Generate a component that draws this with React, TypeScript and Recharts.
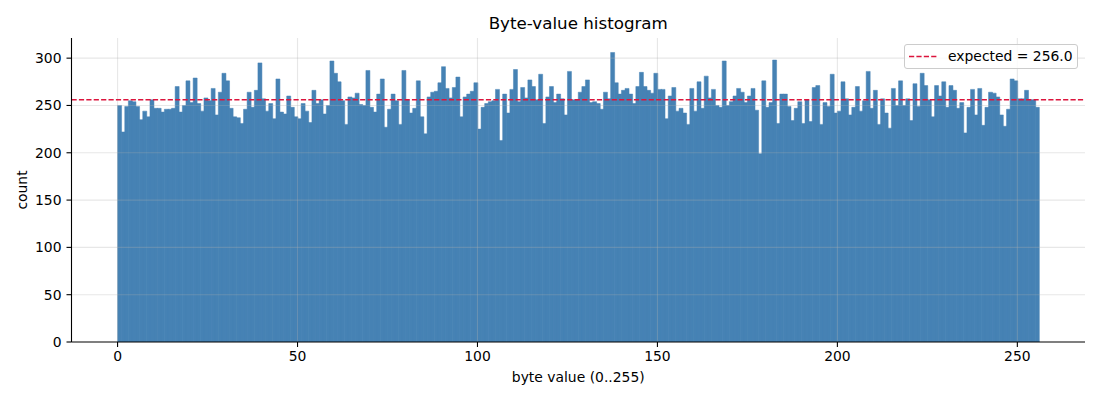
import React from "react";
import { ComposedChart, Bar, XAxis, YAxis, ReferenceLine } from "recharts";

// ---- data -------------------------------------------------------------
const COUNTS: number[] = [
  250, 222, 249, 255, 254, 249, 235, 244, 238, 256, 247, 247, 243, 246, 246, 247,
  270, 243, 250, 276, 253, 279, 252, 244, 258, 255, 268, 240, 264, 284, 276, 247,
  238, 237, 231, 246, 264, 248, 266, 295, 257, 244, 252, 236, 278, 243, 241, 260,
  248, 238, 236, 252, 244, 232, 266, 252, 256, 241, 250, 297, 284, 275, 255, 230,
  259, 258, 263, 251, 250, 287, 248, 243, 262, 278, 227, 246, 262, 255, 230, 287,
  256, 242, 247, 276, 238, 220, 259, 264, 265, 274, 291, 268, 258, 269, 280, 238,
  259, 262, 265, 274, 225, 248, 252, 254, 255, 267, 213, 262, 242, 267, 288, 254,
  269, 258, 277, 270, 256, 283, 231, 259, 270, 253, 262, 257, 240, 286, 256, 256,
  264, 270, 277, 253, 254, 252, 246, 264, 257, 306, 274, 262, 266, 268, 262, 252,
  270, 285, 270, 266, 263, 284, 267, 267, 236, 260, 269, 244, 247, 242, 230, 268,
  244, 275, 247, 281, 258, 267, 250, 248, 297, 250, 254, 260, 268, 264, 253, 260,
  268, 245, 199, 276, 248, 253, 298, 231, 262, 262, 249, 234, 247, 254, 231, 256,
  233, 269, 271, 230, 253, 249, 283, 242, 244, 275, 257, 240, 248, 270, 244, 255,
  286, 247, 266, 230, 257, 242, 226, 268, 250, 276, 250, 257, 234, 273, 249, 284,
  271, 256, 238, 271, 260, 275, 248, 271, 266, 247, 253, 221, 248, 267, 240, 268,
  229, 248, 264, 263, 259, 240, 228, 246, 278, 276, 257, 257, 266, 256, 256, 248,
];
const EXPECTED = 256.0;
const X_TICKS = [0, 50, 100, 150, 200, 250];
const Y_TICKS = [0, 50, 100, 150, 200, 250, 300];
const TITLE = "Byte-value histogram";
const X_LABEL = "byte value (0..255)";
const Y_LABEL = "count";
const LEGEND_LABEL = `expected = ${EXPECTED.toFixed(1)}`;

// bins: bin i covers [i, i+1)
const tableData = COUNTS.map((count, i) => ({ bin: i + 0.5, count }));

// ---- style ------------------------------------------------------------
const FONT = "'DejaVu Sans', Verdana, sans-serif";
const BAR_COLOR = "#4682b4";
const RED = "#dc143c";
const GRID = "rgba(176,176,176,0.3)";
const W = 1100;
const H = 400;
const MARGIN = { top: 38, right: 15, bottom: 28, left: 11.5 };
const YAXIS_W = 60;
const XAXIS_H = 30;
const PLOT_LEFT = MARGIN.left + YAXIS_W;
const PLOT_RIGHT = W - MARGIN.right;
const PLOT_TOP = MARGIN.top;
const PLOT_BOTTOM = H - MARGIN.bottom - XAXIS_H;
const tickStyle = { fontSize: 13.9, fontFamily: FONT, fill: "#000" };

export default function App() {
  const cx = (PLOT_LEFT + PLOT_RIGHT) / 2;
  const cy = (PLOT_TOP + PLOT_BOTTOM) / 2;
  return (
    <div style={{ position: "absolute", left: 0, top: 0, width: W, height: H, background: "#fff" }}>
      <ComposedChart
        width={W}
        height={H}
        data={tableData}
        margin={MARGIN}
        barCategoryGap={0}
        barGap={0}
      >
        <XAxis
          dataKey="bin"
          type="number"
          domain={[-12.8, 268.8]}
          ticks={X_TICKS}
          allowDataOverflow
          height={XAXIS_H}
          tick={tickStyle}
          tickSize={5}
          tickMargin={4}
          stroke="#000"
          strokeWidth={1.1}
          tickLine={{ stroke: "#000", strokeWidth: 1.1 }}
          axisLine={{ stroke: "#000", strokeWidth: 1.1 }}
        />
        <YAxis
          type="number"
          domain={[0, 321.3]}
          ticks={Y_TICKS}
          allowDataOverflow
          width={YAXIS_W}
          tick={tickStyle}
          tickSize={5}
          tickMargin={5}
          stroke="#000"
          strokeWidth={1.1}
          tickLine={{ stroke: "#000", strokeWidth: 1.1 }}
          axisLine={{ stroke: "#000", strokeWidth: 1.1 }}
        />
        <Bar
          dataKey="count"
          fill={BAR_COLOR}
          stroke={BAR_COLOR}
          strokeWidth={0.5}
          isAnimationActive={false}
        />
        {X_TICKS.map((t) => (
          <ReferenceLine key={`gx${t}`} x={t} stroke={GRID} strokeWidth={1.1} />
        ))}
        {Y_TICKS.filter((t) => t > 0).map((t) => (
          <ReferenceLine key={`gy${t}`} y={t} stroke={GRID} strokeWidth={1.1} />
        ))}
        <ReferenceLine y={EXPECTED} stroke={RED} strokeWidth={1.4} strokeDasharray="5.2 2.2" />
      </ComposedChart>

      <svg
        width={W}
        height={H}
        style={{ position: "absolute", left: 0, top: 0, pointerEvents: "none" }}
      >
        <text x={cx} y={29} textAnchor="middle" fontFamily={FONT} fontSize={16.7} fill="#000">
          {TITLE}
        </text>
        <text x={cx} y={382} textAnchor="middle" fontFamily={FONT} fontSize={13.9} fill="#000">
          {X_LABEL}
        </text>
        <text
          x={27}
          y={cy}
          textAnchor="middle"
          fontFamily={FONT}
          fontSize={13.9}
          fill="#000"
          transform={`rotate(-90, 27, ${cy})`}
        >
          {Y_LABEL}
        </text>
      </svg>

      <div
        style={{
          position: "absolute",
          left: 904,
          top: 44,
          width: 172,
          height: 23,
          border: "1px solid #cccccc",
          borderRadius: 3,
          background: "rgba(255,255,255,0.8)",
          fontFamily: FONT,
          fontSize: 13.9,
          color: "#000",
          boxSizing: "content-box",
        }}
      >
        <svg width={40} height={23} style={{ position: "absolute", left: 0, top: 0 }}>
          <line x1={4} x2={33} y1={11.5} y2={11.5} stroke={RED} strokeWidth={1.4} strokeDasharray="5.2 2.2" />
        </svg>
        <span style={{ position: "absolute", left: 43, top: 2, lineHeight: "18px", whiteSpace: "nowrap" }}>
          {LEGEND_LABEL}
        </span>
      </div>
    </div>
  );
}
